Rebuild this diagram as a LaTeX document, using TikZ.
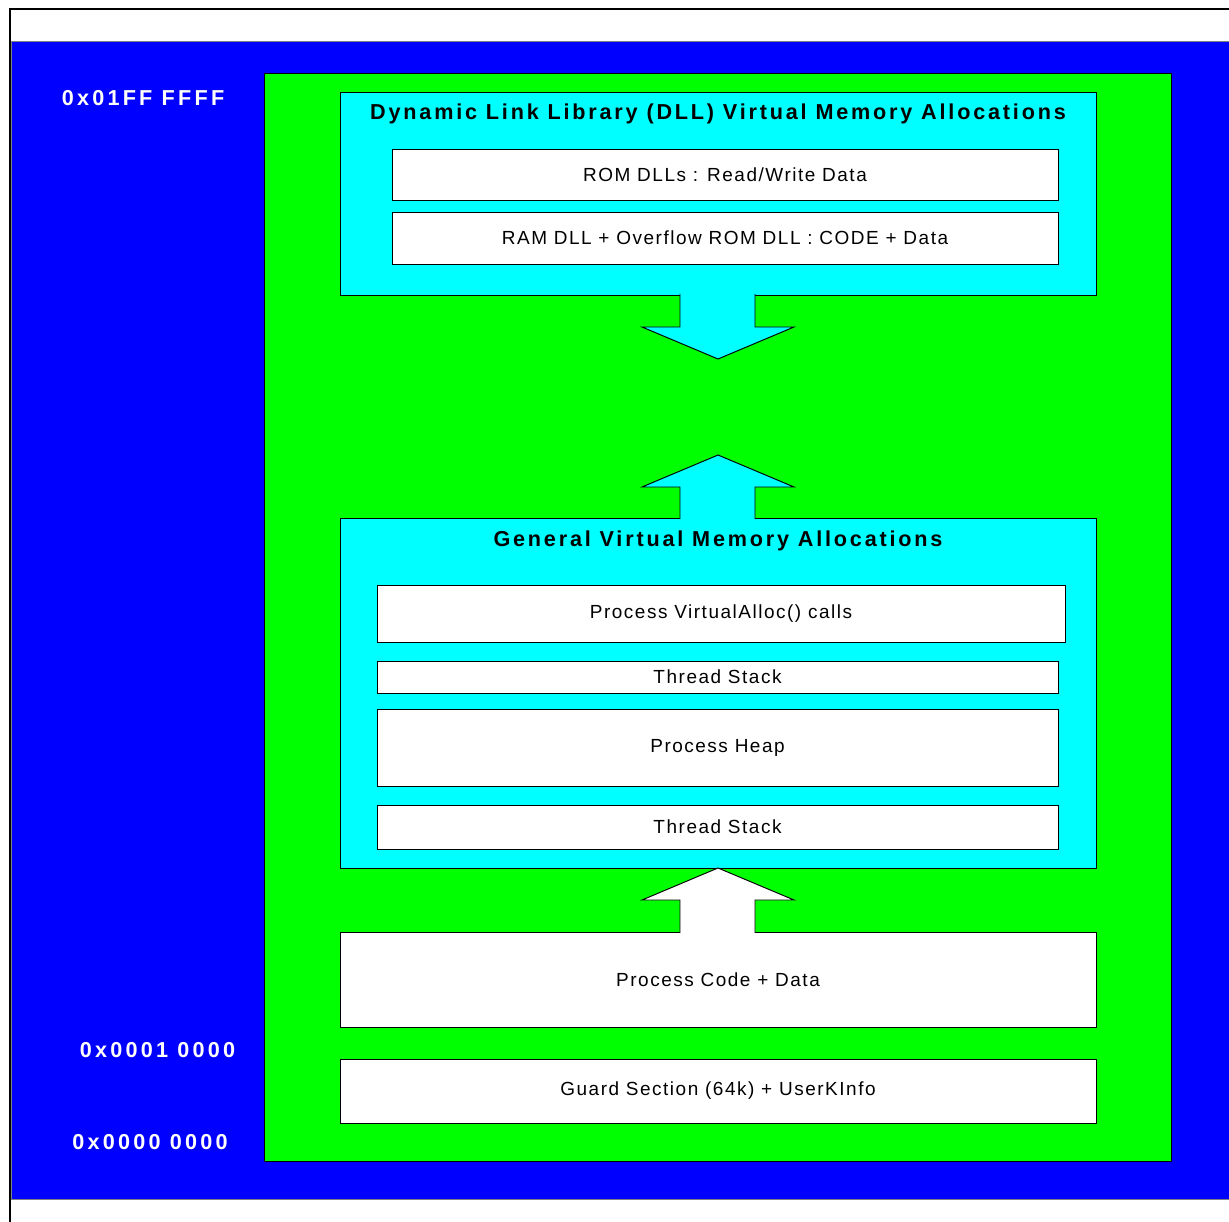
\documentclass[tikz,border=0pt]{standalone}
\usepackage{fontspec}
\setmainfont{Liberation Sans}
\newfontfamily\boxfont[LetterSpace=8]{Liberation Sans}
\newfontfamily\headfont[LetterSpace=13]{Liberation Sans}
\newfontfamily\addrfont[LetterSpace=15]{Liberation Sans}
\usetikzlibrary{calc}
\definecolor{memblue}{RGB}{0,0,255}
\definecolor{memgreen}{RGB}{0,255,0}
\definecolor{memcyan}{RGB}{0,255,255}
\begin{document}
\begin{tikzpicture}[
  x=0.02cm, y=-0.02cm,
  every node/.style={inner sep=0pt, outer sep=0pt},
  region/.style 2 args={draw, line width=0.55pt, minimum width=#1*0.02cm, minimum height=#2*0.02cm},
  cell/.style 2 args={region={#1}{#2}, fill=white, font=\boxfont\fontsize{10.8}{12}\selectfont},
  area/.style 2 args={region={#1}{#2}, fill=memcyan},
  heading/.style={font=\headfont\bfseries\fontsize{12.3}{14}\selectfont},
  addr/.style={text=white, font=\addrfont\bfseries\fontsize{12.3}{14}\selectfont},
  blockarrow/.style={draw, line width=0.55pt, line join=miter}
]
\useasboundingbox (0,0) rectangle (1229,1222);
% frame and background
\draw[line width=0.04cm] (10,1222) -- (10,9) -- (1229,9);
\draw[fill=memblue, draw=gray, line width=0.55pt] (11,41) rectangle (1229,1199);
\node[region={907}{1088}, fill=memgreen] (space) at (717.5,617) {};

% address labels
\node[addr] (top) at (143,98) {0x01FF FFFF};
\node[addr] (base) at (157.5,1050) {0x0001 0000};
\node[addr] (zero) at (150,1142) {0x0000 0000};

% DLL area
\node[area={756}{203}] (dll) at (718,193.5) {};
\node[heading] (dlltitle) at (718,114) {Dynamic Link Library (DLL) Virtual Memory Allocations};
\node[cell={666}{51}] (romdll) at (725,174.5) {ROM DLLs : Read/Write Data};
\node[cell={666}{52}] (ramdll) at (725,238) {RAM DLL + Overflow ROM DLL : CODE + Data};

% general area
\node[area={756}{350}] (general) at (718,693) {};
\node[heading] (gentitle) at (718,541) {General Virtual Memory Allocations};
\node[cell={688}{57}] (valloc) at (721,613.5) {Process VirtualAlloc() calls};
\node[cell={681}{32}] (stacka) at (717.5,677) {Thread Stack};
\node[cell={681}{77}] (heap) at (717.5,747.5) {Process Heap};
\node[cell={681}{44}] (stackb) at (717.5,827) {Thread Stack};

% lower sections
\node[cell={756}{95}] (code) at (718,979.5) {Process Code + Data};
\node[cell={756}{64}] (guard) at (718,1091) {Guard Section (64k) + UserKInfo};

% arrows
\filldraw[blockarrow, fill=memcyan]
  ($(dll.south)+(-38,-1)$) -- ($(dll.south)+(-38,32)$) -- ($(dll.south)+(-76,32)$)
  -- ($(dll.south)+(0,64)$) -- ($(dll.south)+(76,32)$) -- ($(dll.south)+(37,32)$)
  -- ($(dll.south)+(37,-1)$);
\filldraw[blockarrow, fill=memcyan]
  ($(general.north)+(-38,1)$) -- ($(general.north)+(-38,-31)$) -- ($(general.north)+(-76,-31)$)
  -- ($(general.north)+(0,-63)$) -- ($(general.north)+(76,-31)$) -- ($(general.north)+(37,-31)$)
  -- ($(general.north)+(37,1)$);
\filldraw[blockarrow, fill=white]
  ($(code.north)+(-38,1)$) -- ($(code.north)+(-38,-32)$) -- ($(code.north)+(-76,-32)$)
  -- (general.south) -- ($(code.north)+(76,-32)$) -- ($(code.north)+(37,-32)$)
  -- ($(code.north)+(37,1)$);
\end{tikzpicture}
\end{document}
